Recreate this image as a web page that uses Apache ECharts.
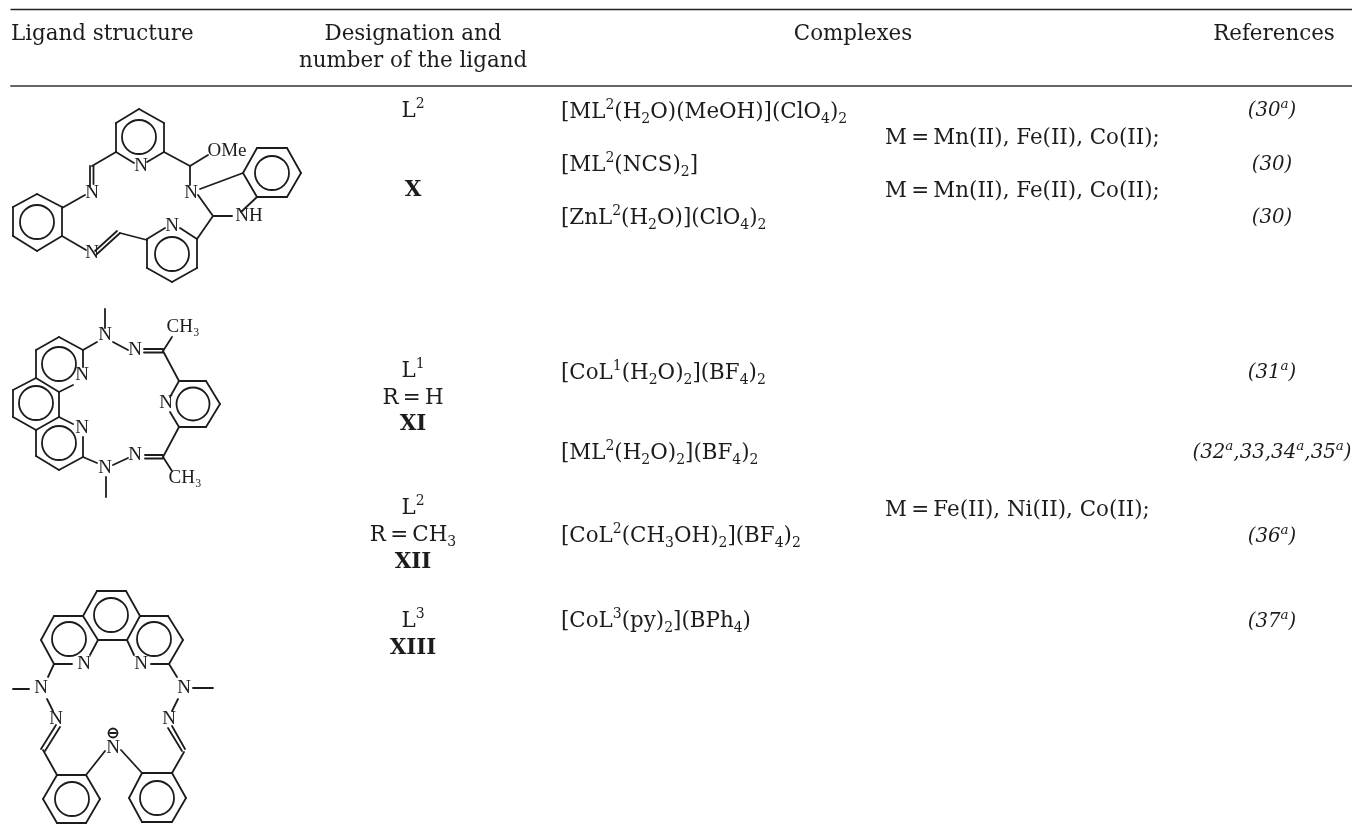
<!DOCTYPE html>
<html>
<head>
<meta charset="utf-8">
<title>Ligands and complexes</title>
<script src="https://cdn.jsdelivr.net/npm/echarts@6/dist/echarts.min.js"></script>
<style>
  html, body { margin: 0; padding: 0; background: #fff; }
  #main { width: 1352px; height: 824px; }
</style>
</head>
<body>
<div id="main"></div>
<script>
// table text
const headers = ['Ligand structure', 'Designation and', 'number of the ligand', 'Complexes', 'References'];
const headerX = [11, 413, 413, 853, 1274];
const headerY = [33, 33, 60, 33, 33];

const designations = ['L{sup|2}', '{b|X}', 'L{sup|1}', 'R\u2009=\u2009H', '{b|XI}', 'L{sup|2}', 'R\u2009=\u2009CH{sub|3}', '{b|XII}', 'L{sup|3}', '{b|XIII}'];
const designationY = [110, 189, 370, 397, 423, 507, 534, 561, 620, 647];

const complexes = [
  '[ML{sup|2}(H{sub|2}O)(MeOH)](ClO{sub|4}){sub|2}',
  '[ML{sup|2}(NCS){sub|2}]',
  '[ZnL{sup|2}(H{sub|2}O)](ClO{sub|4}){sub|2}',
  '[CoL{sup|1}(H{sub|2}O){sub|2}](BF{sub|4}){sub|2}',
  '[ML{sup|2}(H{sub|2}O){sub|2}](BF{sub|4}){sub|2}',
  '[CoL{sup|2}(CH{sub|3}OH){sub|2}](BF{sub|4}){sub|2}',
  '[CoL{sup|3}(py){sub|2}](BPh{sub|4})'
];
const complexY = [111, 164, 217, 372, 452, 535, 620];

const metals = ['M\u2009=\u2009Mn(II), Fe(II), Co(II);', 'M\u2009=\u2009Mn(II), Fe(II), Co(II);', 'M\u2009=\u2009Fe(II), Ni(II), Co(II);'];
const metalY = [137, 190, 509];

const references = [
  '{it|(30}{ita|a}{it|)}',
  '{it|(30)}',
  '{it|(30)}',
  '{it|(31}{ita|a}{it|)}',
  '{it|(32}{ita|a}{it|,33,34}{ita|a}{it|,35}{ita|a}{it|)}',
  '{it|(36}{ita|a}{it|)}',
  '{it|(37}{ita|a}{it|)}'
];
const referenceY = [110, 164, 217, 372, 452, 536, 621];

// horizontal rules of the table
const rules = [[11, 9.5, 1352, 9.5]];
const headRules = [[11, 86, 1352, 86]];

// atom labels [x, y, text]
const atoms = [
  [141, 166, 'N'], [92, 193, 'N'], [92, 253, 'N'], [172, 226, 'N'], [191, 193, 'N'], [249, 216, 'NH'], [227, 151, 'OMe'],
  [82, 375, 'N'], [82, 428, 'N'], [105, 335, 'N'], [135, 350, 'N'], [166, 403, 'N'], [135, 455, 'N'], [105, 468, 'N'], [183, 327, 'CH₃'], [185, 478, 'CH₃'],
  [84, 664, 'N'], [141, 664, 'N'], [41, 688, 'N'], [184, 688, 'N'], [56, 719, 'N'], [169, 719, 'N'], [113, 748, 'N']
];

// aromatic rings [cx, cy, r]
const rings = [
  [139, 137, 17], [37, 222, 17], [172, 254, 17], [272, 173, 17],
  [59, 364, 17], [36, 403, 17], [59, 443, 17], [193, 404, 16.5],
  [111, 615, 17], [69, 639, 17], [154, 639, 17], [72, 799, 17], [157, 798, 17],
  [113, 733, 4.5]
];

// bonds [x1, y1, x2, y2]
const bondsX = [
  [139, 109, 164, 123], [164, 123, 164, 152], [164, 152, 147, 162], [116, 152, 134, 163], [116, 152, 116, 123], [116, 123, 139, 109],
  [116, 152, 92, 166], [90, 166, 90, 186], [93.5, 166, 93.5, 184],
  [85, 195, 62, 208],
  [62, 207, 62, 236], [62, 236, 37, 251], [37, 251, 13, 236], [13, 236, 13, 207], [13, 207, 37, 194], [37, 194, 62, 207],
  [62, 236, 86, 250],
  [97, 254, 120, 233], [95, 251, 117, 231],
  [120, 233, 147, 240],
  [147, 239, 165, 228], [180, 228, 197, 239], [197, 239, 197, 268], [197, 268, 172, 282], [172, 282, 147, 268], [147, 268, 147, 239],
  [197, 239, 213, 216], [213, 216, 232, 216], [213, 216, 198, 195],
  [164, 152, 190, 166], [190, 166, 208, 155], [190, 166, 190, 185],
  [200, 189, 243, 173],
  [243, 173, 257, 148], [257, 148, 287, 148], [287, 148, 301, 173], [301, 173, 287, 197], [287, 197, 257, 197], [257, 197, 243, 173],
  [257, 197, 241, 212]
];
const bondsXI = [
  [36, 350, 59, 337], [59, 337, 83, 350], [83, 350, 83, 367], [59, 392, 73, 385], [59, 392, 36, 378], [36, 378, 36, 350],
  [36, 378, 13, 390], [13, 390, 13, 417], [13, 417, 36, 430], [36, 430, 59, 417], [59, 417, 59, 392],
  [59, 417, 73, 424], [83, 437, 83, 457], [83, 457, 59, 470], [59, 470, 36, 456], [36, 456, 36, 430],
  [83, 350, 97, 342], [105, 309, 105, 328], [113, 342, 128, 350],
  [144, 349, 163, 349], [144, 352.5, 163, 352.5],
  [163, 351, 172, 337], [163, 351, 179, 381],
  [179, 381, 206, 381], [206, 381, 220, 404], [220, 404, 206, 427], [206, 427, 179, 427], [179, 381, 170, 397], [170, 412, 179, 427],
  [179, 427, 163, 457], [145, 455, 163, 455], [145, 458.5, 163, 458.5],
  [128, 458, 113, 465], [97, 463, 83, 457], [106, 477, 106, 497],
  [163, 457, 172, 471]
];
const bondsXIII = [
  [97, 591, 126, 591], [126, 591, 140, 616], [140, 616, 127, 640], [127, 640, 98, 640], [98, 640, 83, 616], [83, 616, 97, 591],
  [83, 616, 54, 616], [54, 616, 41, 640], [41, 640, 54, 664], [54, 664, 72, 664], [98, 640, 90, 655],
  [140, 616, 168, 616], [168, 616, 183, 640], [183, 640, 169, 664], [169, 664, 151, 664], [127, 640, 134, 655],
  [54, 664, 48, 677], [13, 689, 29, 689], [47, 699, 53, 711],
  [60, 727, 45, 751], [56, 725, 41, 749],
  [43, 750, 57, 775],
  [169, 664, 177, 677], [193, 688, 213, 688], [178, 699, 172, 711],
  [172, 726, 185, 749], [168, 728, 182, 751],
  [184, 752, 172, 773],
  [105, 751, 86, 775], [121, 750, 142, 773],
  [57, 775, 86, 775], [86, 775, 100, 799], [100, 799, 86, 823], [86, 823, 57, 823], [57, 823, 43, 799], [43, 799, 57, 775],
  [142, 773, 172, 773], [172, 773, 186, 798], [186, 798, 172, 822], [172, 822, 142, 822], [142, 822, 129, 798], [129, 798, 142, 773],
  [110, 733, 116, 733]
];

const serif = 'DejaVu Serif';
const inkColor = '#1c1c1c';
const bondColor = '#1c1c1c';
const bondWidth = 1.8;
const textSize = 21.4;
const rich = {
  sup: { fontFamily: serif, fontSize: 14, lineHeight: 14, verticalAlign: 'top', color: inkColor },
  sub: { fontFamily: serif, fontSize: 14, lineHeight: 14, verticalAlign: 'bottom', color: inkColor },
  b: { fontFamily: serif, fontSize: textSize, fontWeight: 'bold', lineHeight: 28, color: inkColor },
  it: { fontFamily: serif, fontSize: 19.8, fontStyle: 'italic', lineHeight: 28, color: inkColor },
  ita: { fontFamily: serif, fontSize: 13.5, fontStyle: 'italic', lineHeight: 14, verticalAlign: 'top', color: inkColor }
};

// text column: invisible points carrying a label
function textSeries(strings, xs, ys, align) {
  return {
    type: 'scatter',
    silent: true,
    symbolSize: 1,
    itemStyle: { color: 'transparent', opacity: 1 },
    data: strings.map((s, i) => ({ value: [Array.isArray(xs) ? xs[i] : xs, ys[i]], name: s })),
    label: {
      show: true,
      position: 'inside',
      align: align,
      verticalAlign: 'middle',
      offset: [0, 1],
      formatter: p => p.name,
      fontFamily: serif,
      fontSize: textSize,
      lineHeight: 28,
      color: inkColor,
      rich: rich
    }
  };
}

function segmentSeries(data, width, color) {
  return {
    type: 'custom',
    silent: true,
    clip: false,
    data: data,
    renderItem: (params, api) => {
      const a = api.coord([api.value(0), api.value(1)]);
      const b = api.coord([api.value(2), api.value(3)]);
      return {
        type: 'line',
        shape: { x1: a[0], y1: a[1], x2: b[0], y2: b[1] },
        style: { stroke: color, lineWidth: width, fill: null, lineCap: 'round' }
      };
    }
  };
}

const myChart = echarts.init(document.getElementById('main'), null, { renderer: 'canvas' });
myChart.setOption({
  animation: false,
  backgroundColor: '#fff',
  tooltip: { show: false },
  grid: { left: 0, right: 0, top: 0, bottom: 0 },
  xAxis: { type: 'value', min: 0, max: 1352, show: false },
  yAxis: { type: 'value', min: 0, max: 824, inverse: true, show: false },
  series: [
    segmentSeries(rules, 1.3, '#222'),
    segmentSeries(headRules, 2, '#666'),
    segmentSeries(bondsX, bondWidth, bondColor),
    segmentSeries(bondsXI, bondWidth, bondColor),
    segmentSeries(bondsXIII, bondWidth, bondColor),
    {
      type: 'custom',
      silent: true,
      clip: false,
      data: rings,
      renderItem: (params, api) => {
        const c = api.coord([api.value(0), api.value(1)]);
        return {
          type: 'circle',
          shape: { cx: c[0], cy: c[1], r: api.size([api.value(2), 0])[0] },
          style: { stroke: bondColor, lineWidth: bondWidth, fill: null }
        };
      }
    },
    {
      type: 'scatter',
      silent: true,
      symbolSize: 1,
      itemStyle: { color: 'transparent', opacity: 1 },
      data: atoms.map(a => ({ value: [a[0], a[1]], name: a[2] })),
      label: {
        show: true,
        position: 'inside',
        formatter: p => p.name,
        fontFamily: 'Liberation Serif',
        fontSize: 19,
        color: inkColor
      }
    },
    textSeries(headers.slice(0, 1), headerX.slice(0, 1), headerY.slice(0, 1), 'left'),
    textSeries(headers.slice(1), headerX.slice(1), headerY.slice(1), 'center'),
    textSeries(designations, 413, designationY, 'center'),
    textSeries(complexes, 561, complexY, 'left'),
    textSeries(metals, 885, metalY, 'left'),
    textSeries(references, 1272, referenceY, 'center')
  ]
});
window.addEventListener('resize', function () {
  myChart.resize();
});
</script>
</body>
</html>
